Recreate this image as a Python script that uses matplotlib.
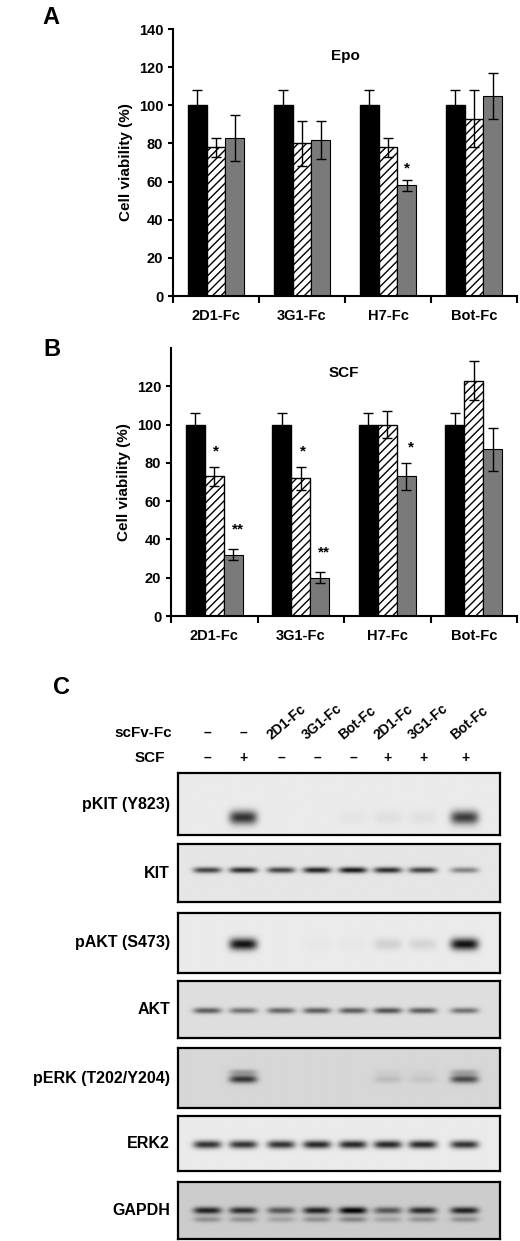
import numpy as np
import matplotlib
matplotlib.use("Agg")
import matplotlib.pyplot as plt

groups = ["2D1-Fc", "3G1-Fc", "H7-Fc", "Bot-Fc"]
a_black = [100, 100, 100, 100]; a_black_err = [8, 8, 8, 8]
a_hatch = [78, 80, 78, 93];     a_hatch_err = [5, 12, 5, 15]
a_gray = [83, 82, 58, 105];     a_gray_err = [12, 10, 3, 12]
a_stars = [("", ""), ("", ""), ("", "*"), ("", "")]
b_black = [100, 100, 100, 100]; b_black_err = [6, 6, 6, 6]
b_hatch = [73, 72, 100, 123];   b_hatch_err = [5, 6, 7, 10]
b_gray = [32, 20, 73, 87];      b_gray_err = [3, 3, 7, 11]
b_stars = [("*", "**"), ("*", "**"), ("", "*"), ("", "")]

lanes_scfv = ["\u2013", "\u2013", "2D1-Fc", "3G1-Fc", "Bot-Fc", "2D1-Fc", "3G1-Fc", "Bot-Fc"]
lanes_scf = ["\u2013", "+", "\u2013", "\u2013", "\u2013", "+", "+", "+"]
blot_rows = ["pKIT (Y823)", "KIT", "pAKT (S473)", "AKT", "pERK (T202/Y204)", "ERK2", "GAPDH"]
blot_int = {
    "pKIT (Y823)": [0, 0.85, 0, 0, 0.03, 0.05, 0.05, 0.8],
    "KIT": [0.75, 0.85, 0.75, 0.9, 0.95, 0.85, 0.75, 0.45],
    "pAKT (S473)": [0, 1.0, 0, 0.02, 0.02, 0.12, 0.1, 1.0],
    "AKT": [0.6, 0.5, 0.55, 0.6, 0.6, 0.65, 0.6, 0.5],
    "pERK (T202/Y204)": [0, 0.75, 0, 0, 0, 0.12, 0.08, 0.65],
    "ERK2": [0.85, 0.85, 0.85, 0.9, 0.9, 0.9, 0.9, 0.85],
    "GAPDH": [0.8, 0.75, 0.55, 0.8, 0.95, 0.55, 0.75, 0.8],
}
blot_bg = {"pKIT (Y823)": 0.92, "KIT": 0.9, "pAKT (S473)": 0.92, "AKT": 0.87,
           "pERK (T202/Y204)": 0.84, "ERK2": 0.92, "GAPDH": 0.8}
band_pos = {"pKIT (Y823)": 0.72, "KIT": 0.45, "pAKT (S473)": 0.52, "AKT": 0.52,
            "pERK (T202/Y204)": 0.52, "ERK2": 0.52, "GAPDH": 0.5}
band_h = {"pKIT (Y823)": 7, "KIT": 3, "pAKT (S473)": 6, "AKT": 3,
          "pERK (T202/Y204)": 4, "ERK2": 4, "GAPDH": 3.5}

W, H = 520, 1241
fig = plt.figure(figsize=(W/100, H/100), dpi=100)
plt.rcParams['font.family'] = ['Liberation Sans', 'DejaVu Sans']

def pax(l, t, r, b):
    return fig.add_axes([l/W, 1-b/H, (r-l)/W, (b-t)/H])

def bars(ax, vals, title, stars, yt, ty):
    x = np.arange(4); w = 0.22
    k, ke, h, he, g, ge = vals
    ek = dict(capsize=3.5, ecolor='black', error_kw=dict(lw=1))
    ax.bar(x-w, k, w, yerr=ke, color='black', edgecolor='black', **ek)
    ax.bar(x, h, w, yerr=he, color='white', edgecolor='black', hatch='////', lw=1, **ek)
    ax.bar(x+w, g, w, yerr=ge, color='#7a7a7a', edgecolor='black', lw=0.8, **ek)
    for i, (s1, s2) in enumerate(stars):
        if s1: ax.text(x[i]+0.02, 86 if s1 else 0, s1, ha='center', fontsize=11, fontweight='bold')
        if s2: ax.text(x[i]+w+0.03, g[i]+ge[i]+4, s2, ha='center', fontsize=11, fontweight='bold')
    ax.set_xlim(-0.5, 3.5); ax.set_ylim(0, 140); ax.set_yticks(yt)
    ax.set_xticks(x); ax.set_xticklabels(groups, fontweight='bold', fontsize=10.5)
    ax.tick_params(axis='y', labelsize=10.5, width=1.5); ax.tick_params(axis='x', length=0, pad=9)
    for t in ax.get_yticklabels(): t.set_fontweight('bold')
    ax.set_xticks(np.arange(5)-0.5, minor=True)
    ax.tick_params(axis='x', which='minor', length=5, width=1.5, direction='out')
    ax.spines['top'].set_visible(False); ax.spines['right'].set_visible(False)
    for s in ('left', 'bottom'): ax.spines[s].set_linewidth(1.5)
    ax.set_ylabel("Cell viability (%)", fontweight='bold', fontsize=11)
    ax.text(1.5, ty, title, ha='center', fontweight='bold', fontsize=11)

axA = pax(173, 29, 517, 296)
bars(axA, (a_black, a_black_err, a_hatch, a_hatch_err, a_gray, a_gray_err), "Epo", [("", ""), ("", ""), ("", ""), ("", "")], range(0, 141, 20), 124)
axA.text(2+0.22, a_gray[2]+a_gray_err[2]+4, "*", ha='center', fontsize=11, fontweight='bold')
axB = pax(171, 348, 517, 616)
bars(axB, (b_black, b_black_err, b_hatch, b_hatch_err, b_gray, b_gray_err), "SCF", [("", "")]*4, range(0, 121, 20), 125)
for i, (s1, s2) in enumerate(b_stars):
    if s1: axB.text(i+0.02, b_hatch[i]+b_hatch_err[i]+6, s1, ha='center', fontsize=11, fontweight='bold')
    if s2: axB.text(i+0.22+0.05, b_gray[i]+b_gray_err[i]+(8 if len(s2) > 1 else 6), s2, ha='center', fontsize=11, fontweight='bold')
for lbl, x, y in [("A", 42, 18), ("B", 43, 350), ("C", 53, 687)]:
    fig.text(x/W, 1-y/H, lbl, fontsize=17, fontweight='bold', va='center')

lane_x = [207, 243, 281, 317, 353, 388, 423, 465]
for xx, s in zip(lane_x, lanes_scfv):
    if s == "\u2013":
        fig.text(xx/W, 1-733/H, s, ha='center', va='center', fontsize=10, fontweight='bold')
    else:
        fig.text((xx-8)/W, 1-742/H, s, ha='left', va='bottom', rotation=40, fontsize=10, fontweight='bold', rotation_mode='anchor')
for xx, s in zip(lane_x, lanes_scf):
    fig.text(xx/W, 1-758/H, s, ha='center', va='center', fontsize=10, fontweight='bold')
fig.text(172/W, 1-733/H, "scFv-Fc", ha='right', va='center', fontsize=11, fontweight='bold')
fig.text(165/W, 1-758/H, "SCF", ha='right', va='center', fontsize=11, fontweight='bold')

boxes = [(773, 835), (844, 902), (913, 973), (981, 1038), (1048, 1108), (1116, 1171), (1182, 1239)]
xs = np.linspace(178, 500, 330)
for name, (t, b) in zip(blot_rows, boxes):
    ax = pax(178, t, 500, b)
    ys = np.linspace(t, b, 90)
    X, Y = np.meshgrid(xs, ys)
    cy = t + band_pos[name]*(b - t)
    dark = np.zeros_like(X)
    for xx, v in zip(lane_x, blot_int[name]):
        dark += v * np.exp(-((X-xx)/14)**4) * np.exp(-((Y-cy)/band_h[name])**2)
        if name.startswith("pERK") or name == "GAPDH":
            dark += 0.35*v * np.exp(-((X-xx)/14)**4) * np.exp(-((Y-(cy + (-7 if name.startswith("pERK") else 9)))/3)**2)
    img = blot_bg[name] - 0.85*np.clip(dark, 0, 1)
    ax.imshow(img, cmap='gray', vmin=0, vmax=1, aspect='auto', extent=(178, 500, b, t))
    ax.set_xticks([]); ax.set_yticks([])
    for s in ax.spines.values(): s.set_linewidth(1.6)
    fig.text(170/W, 1-(t+b)/2/H, name, ha='right', va='center', fontsize=11.5, fontweight='bold')

fig.savefig("out.png", dpi=100, facecolor='white')
